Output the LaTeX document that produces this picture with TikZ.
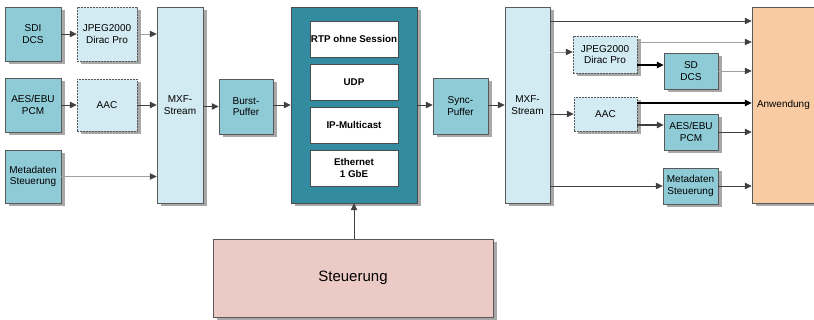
\documentclass[tikz,border=0pt]{standalone}
\usepackage{fontspec}
\setmainfont{Liberation Sans}
\usetikzlibrary{arrows.meta,shadows}
\definecolor{tealbox}{HTML}{8FCBD7}
\definecolor{lightbox}{HTML}{D2EAF2}
\definecolor{deepteal}{HTML}{338B9F}
\definecolor{peach}{HTML}{F8CBA3}
\definecolor{rosebox}{HTML}{ECCBC6}
\definecolor{shadowgray}{HTML}{A8A8A8}
\definecolor{linegray}{HTML}{A0A0A0}
\definecolor{linedark}{HTML}{404040}
\tikzset{
  base/.style={draw=black!65, line width=0.5pt, inner sep=0pt, align=center,
    font=\fontsize{10}{11.5}\selectfont,
    drop shadow={shadow xshift=3.5pt, shadow yshift=-3.5pt, fill=shadowgray, opacity=1}},
  tealnode/.style={base, fill=tealbox},
  lightnode/.style={base, fill=lightbox, dashed, dash pattern=on 2pt off 1pt},
  layer/.style={draw=black!70, line width=0.5pt, fill=white, inner sep=0pt, align=center,
    minimum width=88pt, minimum height=36pt, font=\bfseries\fontsize{9.8}{11.5}\selectfont},
  graylink/.style={-{Triangle[length=7pt,width=6.5pt,color=linedark]}, draw=linegray, line width=0.6pt},
  darklink/.style={-{Triangle[length=7pt,width=6.5pt,color=linedark]}, draw=linedark, line width=0.8pt},
  boldlink/.style={-{Triangle[length=7pt,width=6.5pt,color=black]}, draw=black, line width=1.6pt},
  bolddark/.style={-{Triangle[length=7pt,width=6.5pt,color=linedark]}, draw=linedark, line width=1.6pt},
}
\begin{document}
\begin{tikzpicture}[x=1pt,y=-1pt]
\clip (0,0) rectangle (814,320);
\fill[white] (0,0) rectangle (814,320);

% sender side
\node[tealnode, minimum width=56pt, minimum height=54pt] (sdi) at (33,34) {SDI\\DCS};
\node[lightnode, minimum width=60pt, minimum height=54pt] (jpl) at (107,34) {JPEG2000\\Dirac Pro};
\node[tealnode, minimum width=56pt, minimum height=54pt] (aes) at (33,105) {AES/EBU\\PCM};
\node[lightnode, minimum width=60pt, minimum height=52pt] (aacl) at (107,105) {AAC};
\node[tealnode, minimum width=56pt, minimum height=53pt] (metal) at (33,176.5) {Metadaten\\Steuerung};
\node[base, fill=lightbox, minimum width=46pt, minimum height=196pt] (mxfl) at (180,105) {MXF-\\Stream};
\node[tealnode, minimum width=54pt, minimum height=55pt] (burst) at (246,106.5) {Burst-\\Puffer};

% protocol stack
\node[base, fill=deepteal, draw=black!70, minimum width=126pt, minimum height=196pt] (big) at (354,105) {};
\node[layer] (rtp) at (354,39) {RTP ohne Session};
\node[layer] (udp) at (354,82) {UDP};
\node[layer] (ipm) at (354,125) {IP-Multicast};
\node[layer] (eth) at (354,168) {Ethernet\\1 GbE};

% receiver side
\node[tealnode, minimum width=55pt, minimum height=56pt] (sync) at (460.5,106) {Sync-\\Puffer};
\node[base, fill=lightbox, minimum width=45pt, minimum height=196pt] (mxfr) at (527.5,105) {MXF-\\Stream};
\node[lightnode, minimum width=64pt, minimum height=37pt] (jpr) at (605,54.5) {JPEG2000\\Dirac Pro};
\node[tealnode, minimum width=54pt, minimum height=36pt] (sdr) at (691,71) {SD\\DCS};
\node[lightnode, minimum width=63pt, minimum height=34pt] (aacr) at (605.5,114) {AAC};
\node[tealnode, minimum width=54pt, minimum height=36pt] (aesr) at (691,132) {AES/EBU\\PCM};
\node[tealnode, minimum width=55pt, minimum height=36pt] (metar) at (690.5,186) {Metadaten\\Steuerung};
\node[base, fill=peach, minimum width=70pt, minimum height=196pt, text width=62pt, align=left] (anw) at (787,105) {\hspace*{1pt}Anwendung};

% control
\node[base, fill=rosebox, minimum width=280pt, minimum height=78pt, font=\fontsize{15}{17}\selectfont] (steu) at (353,278) {Steuerung};

% sender connectors
\draw[darklink] (sdi.east) -- (jpl.west);
\draw[graylink] (jpl.east) -- (jpl.east -| mxfl.west);
\draw[darklink] (aes.east) -- (aacl.west);
\draw[darklink] (aacl.east) -- (aacl.east -| mxfl.west);
\draw[graylink] (metal.east) -- (metal.east -| mxfl.west);
\draw[darklink] (mxfl.east |- burst.west) -- (burst.west);
\draw[darklink] (burst.east |- 0,105) -- (big.west |- 0,105);
\draw[darklink] (big.east |- 0,105) -- (sync.west |- 0,105);
\draw[darklink] (sync.east |- 0,105) -- (mxfr.west |- 0,105);
\draw[darklink] (steu.north -| big.south) -- (big.south);

% receiver connectors
\draw[darklink] (mxfr.east |- 0,21) -- (anw.west |- 0,21);
\draw[graylink] (jpr.east |- 0,42) -- (anw.west |- 0,42);
\draw[graylink] (mxfr.east |- 0,52) -- (jpr.west |- 0,52);
\draw[boldlink] (jpr.east |- 0,65) -- (sdr.west |- 0,65);
\draw[graylink] (sdr.east |- 0,71) -- (anw.west |- 0,71);
\draw[darklink] (mxfr.east |- 0,114) -- (aacr.west |- 0,114);
\draw[boldlink] (aacr.east |- 0,103) -- (anw.west |- 0,103);
\draw[bolddark] (aacr.east |- 0,125) -- (aesr.west |- 0,125);
\draw[darklink] (aesr.east |- 0,132) -- (anw.west |- 0,132);
\draw[darklink] (mxfr.east |- 0,186) -- (metar.west |- 0,186);
\draw[darklink] (metar.east |- 0,186) -- (anw.west |- 0,186);
\end{tikzpicture}
\end{document}
